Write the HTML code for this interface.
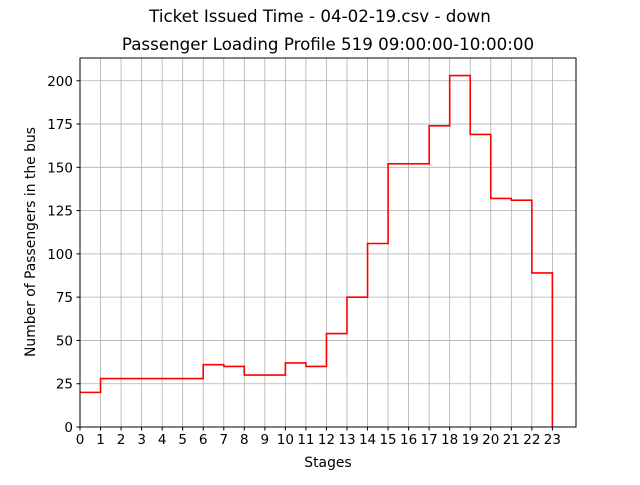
<!DOCTYPE html>
<html><head><meta charset="utf-8"><style>
body{margin:0;background:#fff;font-family:"Liberation Sans","DejaVu Sans",sans-serif;}
</style></head><body>
<svg id="chart" width="640" height="480" xmlns="http://www.w3.org/2000/svg">
<rect width="640" height="480" fill="#fff"/>
<text x="320" y="22" text-anchor="middle" font-size="16.7" font-family="DejaVu Sans, sans-serif">Ticket Issued Time - 04-02-19.csv - down</text>
<text x="328" y="50" text-anchor="middle" font-size="16.7" font-family="DejaVu Sans, sans-serif">Passenger Loading Profile 519 09:00:00-10:00:00</text>
<g id="grid"></g><g id="ticks"></g>
<path id="line" fill="none" stroke="#ff0000" stroke-width="1.6"/>
<rect x="80" y="58" width="496" height="369" fill="none" stroke="#000" stroke-width="1"/>
<text x="328" y="467" text-anchor="middle" font-size="13.9" font-family="DejaVu Sans, sans-serif">Stages</text>
<text transform="translate(35,242) rotate(-90)" text-anchor="middle" font-size="13.9" font-family="DejaVu Sans, sans-serif">Number of Passengers in the bus</text>
</svg>
<script>
const stages=[0,1,2,3,4,5,6,7,8,9,10,11,12,13,14,15,16,17,18,19,20,21,22,23];
const passengers=[20,28,28,28,28,28,36,35,30,30,37,35,54,75,106,152,152,174,203,169,132,131,89,0];
const yTicks=[0,25,50,75,100,125,150,175,200];
const L=80,R=576,T=58,B=427,XMAX=24.15,YMAX=213.15;
const sx=v=>L+v/XMAX*(R-L), sy=v=>B-v/YMAX*(B-T);
const NS="http://www.w3.org/2000/svg";
const grid=document.getElementById('grid'), ticks=document.getElementById('ticks');
function mk(tag,attrs,parent){const e=document.createElementNS(NS,tag);for(const k in attrs)e.setAttribute(k,attrs[k]);parent.appendChild(e);return e;}
stages.forEach(s=>{const x=sx(s);
 const g=mk('line',{x1:x,x2:x,y1:T,y2:B,stroke:'#b0b0b0','stroke-width':0.8},grid);
 
 
 const t=mk('line',{x1:x,x2:x,y1:B,y2:B+3.5,stroke:'#000'},ticks);
 
 
 const l=mk('text',{x:x,y:B+17,'text-anchor':'middle','font-size':13.5,'font-family':'DejaVu Sans, sans-serif'},ticks);
 l.textContent=s;
 
 
});
yTicks.forEach(v=>{const y=sy(v);
 const g=mk('line',{x1:L,x2:R,y1:y,y2:y,stroke:'#b0b0b0','stroke-width':0.8},grid);
 
 
 const t=mk('line',{x1:L-3.5,x2:L,y1:y,y2:y,stroke:'#000'},ticks);
 
 
 const l=mk('text',{x:L-7,y:y+5,'text-anchor':'end','font-size':13.5,'font-family':'DejaVu Sans, sans-serif'},ticks);
 l.textContent=v;
 
 
});
let d='';
stages.forEach((s,i)=>{
 if(i===0)d+='M'+sx(s)+','+sy(passengers[i]);
 else d+=' H'+sx(s)+' V'+sy(passengers[i]);
});
document.getElementById('line').setAttribute('d',d);
</script>
</body></html>
